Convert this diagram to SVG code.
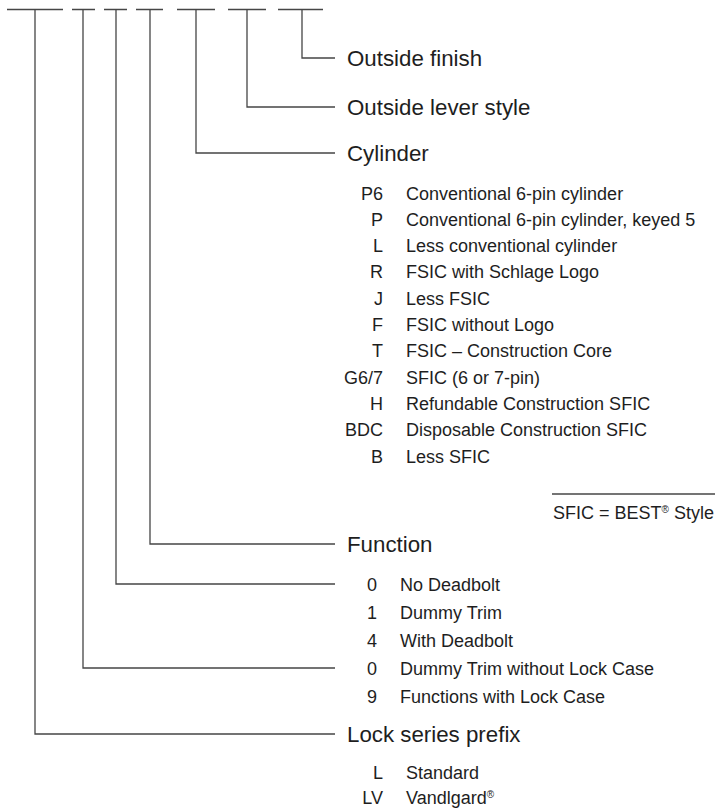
<svg xmlns="http://www.w3.org/2000/svg" width="715" height="808" viewBox="0 0 715 808">
<style>
  .ln { fill: none; stroke: #464646; stroke-width: 1.3; }
  text { font-family: "Liberation Sans", Arial, sans-serif; fill: #1e1e1e; }
  .hd { font-size: 22.3px; }
  .it { font-size: 18px; }
  .cd { font-size: 18px; text-anchor: end; }
  .sup { font-size: 10px; }
</style>
<rect width="715" height="808" fill="#ffffff"/>
<g id="slots">
  <path class="ln" d="M7,9.5 H63 M72,9.5 H95 M104,9.5 H127 M136,9.5 H163 M177,9.5 H215 M228,9.5 H266 M278,9.5 H323"/>
</g>
<g id="connectors">
  <path class="ln" d="M302,9.5 V58 H335"/>
  <path class="ln" d="M247,9.5 V107 H335"/>
  <path class="ln" d="M196,9.5 V153 H335"/>
  <path class="ln" d="M150,9.5 V544 H335"/>
  <path class="ln" d="M116,9.5 V584 H335"/>
  <path class="ln" d="M83,9.5 V668 H335"/>
  <path class="ln" d="M35,9.5 V734 H335"/>
</g>
<g id="outside-finish">
  <text class="hd" x="347" y="66">Outside finish</text>
</g>
<g id="outside-lever-style">
  <text class="hd" x="347" y="115">Outside lever style</text>
</g>
<g id="cylinder">
  <text class="hd" x="347" y="161">Cylinder</text>
  <text class="cd" x="383" y="199.5">P6</text><text class="it" x="406" y="199.5">Conventional 6-pin cylinder</text>
  <text class="cd" x="383" y="225.8">P</text><text class="it" x="406" y="225.8">Conventional 6-pin cylinder, keyed 5</text>
  <text class="cd" x="383" y="252.1">L</text><text class="it" x="406" y="252.1">Less conventional cylinder</text>
  <text class="cd" x="383" y="278.4">R</text><text class="it" x="406" y="278.4">FSIC with Schlage Logo</text>
  <text class="cd" x="383" y="304.7">J</text><text class="it" x="406" y="304.7">Less FSIC</text>
  <text class="cd" x="383" y="331">F</text><text class="it" x="406" y="331">FSIC without Logo</text>
  <text class="cd" x="383" y="357.3">T</text><text class="it" x="406" y="357.3">FSIC – Construction Core</text>
  <text class="cd" x="383" y="383.6">G6/7</text><text class="it" x="406" y="383.6">SFIC (6 or 7-pin)</text>
  <text class="cd" x="383" y="409.9">H</text><text class="it" x="406" y="409.9">Refundable Construction SFIC</text>
  <text class="cd" x="383" y="436.2">BDC</text><text class="it" x="406" y="436.2">Disposable Construction SFIC</text>
  <text class="cd" x="383" y="462.5">B</text><text class="it" x="406" y="462.5">Less SFIC</text>
</g>
<g id="sfic-note">
  <path class="ln" d="M552,494 H715"/>
  <text class="it" x="553" y="519">SFIC = BEST<tspan class="sup" dy="-6">®</tspan><tspan dy="6"> Style</tspan></text>
</g>
<g id="function">
  <text class="hd" x="347" y="552">Function</text>
</g>
<g id="function-digit">
  <text class="cd" x="377" y="590.5">0</text><text class="it" x="400" y="590.5">No Deadbolt</text>
  <text class="cd" x="377" y="618.5">1</text><text class="it" x="400" y="618.5">Dummy Trim</text>
  <text class="cd" x="377" y="646.5">4</text><text class="it" x="400" y="646.5">With Deadbolt</text>
</g>
<g id="lock-case-digit">
  <text class="cd" x="377" y="674.5">0</text><text class="it" x="400" y="674.5">Dummy Trim without Lock Case</text>
  <text class="cd" x="377" y="702.5">9</text><text class="it" x="400" y="702.5">Functions with Lock Case</text>
</g>
<g id="lock-series-prefix">
  <text class="hd" x="347" y="742">Lock series prefix</text>
  <text class="cd" x="383" y="778.5">L</text><text class="it" x="406" y="778.5">Standard</text>
  <text class="cd" x="383" y="803.5">LV</text><text class="it" x="406" y="803.5">Vandlgard<tspan class="sup" dy="-6">®</tspan></text>
</g>
</svg>
